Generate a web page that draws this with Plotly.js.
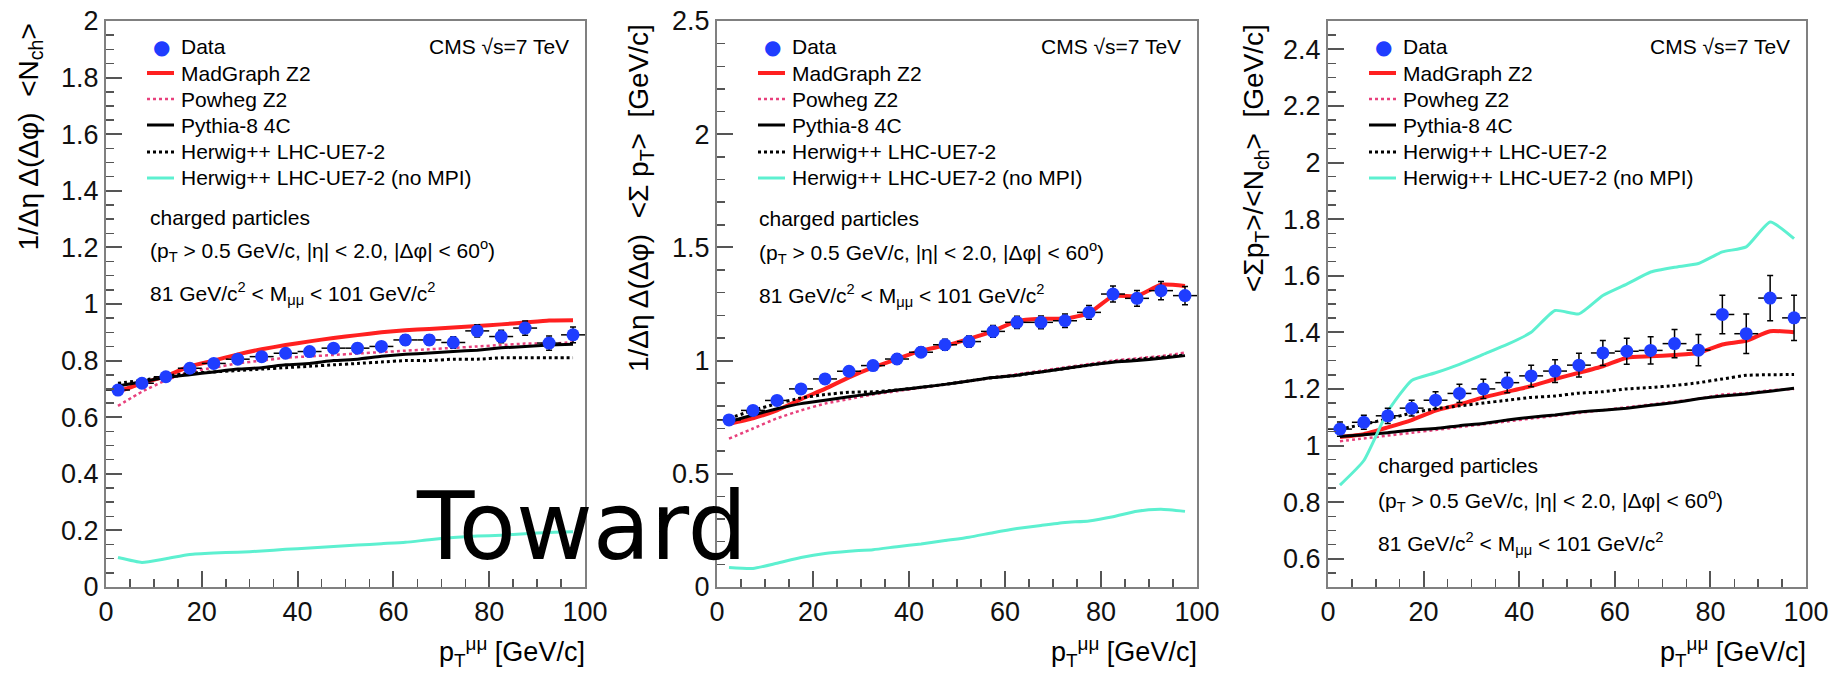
<!DOCTYPE html>
<html><head><meta charset="utf-8">
<script src="https://cdn.plot.ly/plotly-3.0.1.min.js"></script>
<style>html,body{margin:0;padding:0;background:#fff}#chart{width:1834px;height:677px}</style>
</head><body><div id="chart"></div>
<script>
// ---------- data ----------
const ptBins = [2.5,7.5,12.5,17.5,22.5,27.5,32.5,37.5,42.5,47.5,52.5,57.5,62.5,67.5,72.5,77.5,82.5,87.5,92.5,97.5];
const binHalfWidth = 2.5;

const seriesNames = ["Data","MadGraph Z2","Powheg Z2","Pythia-8 4C","Herwig++ LHC-UE7-2","Herwig++ LHC-UE7-2 (no MPI)"];

// Panel 1: 1/Δη Δ(Δφ) <Nch>
const nchData      = [0.696,0.720,0.743,0.773,0.790,0.805,0.814,0.826,0.832,0.844,0.844,0.850,0.873,0.873,0.864,0.905,0.885,0.915,0.862,0.891];
const nchErr       = [0.010,0.010,0.012,0.012,0.013,0.013,0.014,0.014,0.015,0.015,0.016,0.016,0.018,0.018,0.020,0.022,0.022,0.025,0.025,0.028];
const nchMadGraph  = [0.690,0.720,0.745,0.780,0.800,0.822,0.840,0.855,0.868,0.880,0.890,0.900,0.907,0.912,0.917,0.922,0.928,0.935,0.942,0.943];
const nchPowheg    = [0.640,0.690,0.730,0.760,0.775,0.790,0.800,0.810,0.815,0.820,0.825,0.830,0.835,0.840,0.845,0.850,0.855,0.860,0.860,0.865];
const nchPythia    = [0.710,0.725,0.740,0.750,0.760,0.770,0.775,0.785,0.790,0.800,0.805,0.815,0.822,0.827,0.832,0.837,0.845,0.850,0.855,0.858];
const nchHerwig    = [0.720,0.730,0.745,0.755,0.760,0.765,0.770,0.775,0.780,0.785,0.790,0.795,0.800,0.800,0.805,0.805,0.810,0.810,0.810,0.810];
const nchHerwigNoMPI = [0.104,0.087,0.100,0.115,0.120,0.123,0.127,0.133,0.138,0.143,0.148,0.153,0.158,0.167,0.175,0.180,0.183,0.188,0.193,0.195];

// Panel 2: 1/Δη Δ(Δφ) <Σ pT>
const sptData      = [0.738,0.780,0.824,0.875,0.919,0.953,0.978,1.007,1.037,1.070,1.084,1.129,1.169,1.169,1.176,1.213,1.294,1.275,1.309,1.287];
const sptErr       = [0.015,0.015,0.017,0.018,0.020,0.020,0.020,0.022,0.022,0.024,0.025,0.026,0.027,0.028,0.030,0.030,0.035,0.035,0.040,0.040];
const sptMadGraph  = [0.720,0.745,0.780,0.830,0.875,0.926,0.970,1.007,1.044,1.066,1.096,1.130,1.175,1.185,1.185,1.210,1.285,1.285,1.335,1.330];
const sptPowheg    = [0.655,0.700,0.745,0.780,0.810,0.830,0.850,0.865,0.880,0.895,0.910,0.925,0.940,0.955,0.970,0.985,1.000,1.010,1.020,1.035];
const sptPythia    = [0.730,0.760,0.787,0.810,0.825,0.840,0.855,0.870,0.882,0.895,0.910,0.925,0.935,0.950,0.965,0.980,0.993,1.000,1.010,1.022];
const sptHerwig    = [0.745,0.780,0.810,0.835,0.850,0.860,0.862,0.870,0.882,0.895,0.910,0.925,0.935,0.950,0.965,0.980,0.995,1.005,1.015,1.025];
const sptHerwigNoMPI = [0.086,0.082,0.105,0.130,0.148,0.158,0.165,0.178,0.190,0.205,0.220,0.240,0.258,0.272,0.285,0.292,0.310,0.335,0.343,0.334];

// Panel 3: <Σ pT>/<Nch>
const ratioData      = [1.058,1.082,1.105,1.132,1.160,1.184,1.200,1.222,1.246,1.263,1.284,1.327,1.333,1.336,1.360,1.337,1.463,1.395,1.521,1.451];
const ratioErr       = [0.025,0.025,0.027,0.028,0.030,0.032,0.034,0.036,0.038,0.040,0.042,0.044,0.046,0.048,0.050,0.055,0.068,0.070,0.080,0.080];
const ratioMadGraph  = [1.030,1.040,1.064,1.090,1.123,1.145,1.170,1.190,1.210,1.235,1.257,1.280,1.310,1.315,1.320,1.327,1.357,1.370,1.404,1.400];
const ratioPowheg    = [1.015,1.025,1.035,1.045,1.055,1.065,1.075,1.085,1.095,1.105,1.115,1.125,1.135,1.145,1.155,1.165,1.180,1.185,1.195,1.200];
const ratioPythia    = [1.032,1.038,1.045,1.055,1.060,1.070,1.078,1.090,1.100,1.108,1.118,1.125,1.132,1.142,1.152,1.165,1.175,1.182,1.192,1.202];
const ratioHerwig    = [1.058,1.075,1.094,1.115,1.130,1.140,1.150,1.160,1.170,1.175,1.185,1.190,1.200,1.205,1.212,1.222,1.235,1.248,1.250,1.251];
const ratioHerwigNoMPI = [0.860,0.947,1.120,1.230,1.257,1.287,1.322,1.357,1.400,1.477,1.465,1.530,1.570,1.613,1.630,1.643,1.684,1.702,1.790,1.731];

const yTitles = [
  "1/Δη Δ(Δφ)  &lt;N<sub>ch</sub>&gt;",
  "1/Δη Δ(Δφ)  &lt;Σ p<sub>T</sub>&gt;  [GeV/c]",
  "&lt;Σp<sub>T</sub>&gt;/&lt;N<sub>ch</sub>&gt;  [GeV/c]"
];
const xTitle = "p<sub>T</sub><sup>μμ</sup> [GeV/c]";
const cmsLabel = "CMS √s=7 TeV";
const selectionText = [
  "charged particles",
  "(p<sub>T</sub> &gt; 0.5 GeV/c, |η| &lt; 2.0, |Δφ| &lt; 60<sup>o</sup>)",
  "81 GeV/c<sup>2</sup> &lt; M<sub>μμ</sub> &lt; 101 GeV/c<sup>2</sup>"
];
const overlayLabel = "Toward";

// ---------- styling ----------
const W = 1834, H = 677;
const px = v => v / W;
const py = v => 1 - v / H;
const FONT = "Liberation Sans, Arial, Helvetica, sans-serif";

const styles = [
  {color:'#1f3dff'},
  {color:'#ff2020', width:4, dash:'solid'},
  {color:'#e8407c', width:2.5, dash:'dot'},
  {color:'#000000', width:3, dash:'solid'},
  {color:'#000000', width:3, dash:'dot'},
  {color:'#5df0d0', width:3, dash:'solid'}
];

const panels = [
  {sfx:'', left:106, right:585, yrange:[0,2], dtick:0.2, tick0:0, minor:0.05,
   data:nchData, err:nchErr, models:[nchMadGraph,nchPowheg,nchPythia,nchHerwig,nchHerwigNoMPI],
   ytitleX:30, textLeft:148, textRows:[217,251,294]},
  {sfx:'2', left:717, right:1197, yrange:[0,2.5], dtick:0.5, tick0:0, minor:0.1,
   data:sptData, err:sptErr, models:[sptMadGraph,sptPowheg,sptPythia,sptHerwig,sptHerwigNoMPI],
   ytitleX:640, textLeft:757, textRows:[218,253,295]},
  {sfx:'3', left:1328, right:1806, yrange:[0.5,2.5], dtick:0.2, tick0:0.6, minor:0.05,
   data:ratioData, err:ratioErr, models:[ratioMadGraph,ratioPowheg,ratioPythia,ratioHerwig,ratioHerwigNoMPI],
   ytitleX:1255, textLeft:1376, textRows:[465,500,543]}
];
const plotTop = 21, plotBottom = 587;
const legendRows = [47,73,99,125,152,178];

const traces = [];
const layout = {
  width:W, height:H, margin:{l:0,r:0,t:0,b:0},
  paper_bgcolor:'#fff', plot_bgcolor:'#fff', showlegend:false,
  font:{family:FONT, color:'#000'},
  annotations:[], shapes:[]
};

panels.forEach((p, pi) => {
  const xa = 'x'+p.sfx, ya = 'y'+p.sfx;
  p.models.forEach((m,i) => {
    const s = styles[i+1];
    traces.push({x:ptBins, y:m, xaxis:xa, yaxis:ya, mode:'lines', name:seriesNames[i+1],
      line:{color:s.color, width:s.width, dash:s.dash, shape:'spline', smoothing:0.5}, hoverinfo:'skip'});
  });
  traces.push({x:ptBins, y:p.data, xaxis:xa, yaxis:ya, mode:'markers', name:seriesNames[0],
    marker:{color:styles[0].color, size:13},
    error_y:{type:'data', array:p.err, color:'#000', thickness:1.5, width:3},
    error_x:{type:'constant', value:binHalfWidth, color:'#000', thickness:1.5, width:0}});

  const common = {showline:true, mirror:true, linecolor:'#808080', linewidth:2,
    ticks:'inside', ticklen:16, tickwidth:2, tickcolor:'#555',
    showgrid:false, zeroline:false, tickfont:{family:FONT, size:27, color:'#111'}};
  layout['xaxis'+p.sfx] = Object.assign({}, common, {
    domain:[px(p.left), px(p.right)], range:[0,100], dtick:20, tick0:0, anchor:ya,
    minor:{ticks:'inside', ticklen:8, tickwidth:1.5, tickcolor:'#555', dtick:5}});
  layout['yaxis'+p.sfx] = Object.assign({}, common, {
    domain:[py(plotBottom), py(plotTop)], range:p.yrange, dtick:p.dtick, tick0:p.tick0, anchor:xa,
    minor:{ticks:'inside', ticklen:8, tickwidth:1.5, tickcolor:'#555', dtick:p.minor}});

  const ann = layout.annotations;
  ann.push({xref:'paper', yref:'paper', x:px(p.ytitleX), y:py(22), xanchor:'center', yanchor:'top',
    textangle:-90, text:yTitles[pi], showarrow:false, font:{size:28, family:FONT}});
  ann.push({xref:'paper', yref:'paper', x:px(p.right+2), y:py(652), xanchor:'right', yanchor:'middle',
    text:xTitle, showarrow:false, font:{size:27, family:FONT}});
  ann.push({xref:'paper', yref:'paper', x:px(p.right-14), y:py(47), xanchor:'right', yanchor:'middle',
    text:cmsLabel, showarrow:false, font:{size:21, family:FONT}});
  selectionText.forEach((t,k) => ann.push({xref:'paper', yref:'paper', x:px(p.textLeft), y:py(p.textRows[k]),
    xanchor:'left', yanchor:'middle', text:t, showarrow:false, font:{size:21, family:FONT}}));
  seriesNames.forEach((n,k) => {
    const yy = legendRows[k];
    if (k === 0) {
      ann.push({xref:'paper', yref:'paper', x:px(p.left+55), y:py(yy), xanchor:'center', yanchor:'middle',
        text:'●', showarrow:false, font:{size:20, color:styles[0].color, family:'DejaVu Sans'}});
    } else {
      const s = styles[k];
      layout.shapes.push({type:'line', xref:'paper', yref:'paper', x0:px(p.left+41), x1:px(p.left+68),
        y0:py(yy), y1:py(yy), line:{color:s.color, width:s.width, dash:s.dash}});
    }
    ann.push({xref:'paper', yref:'paper', x:px(p.left+73), y:py(yy), xanchor:'left', yanchor:'middle',
      text:n, showarrow:false, font:{size:21, family:FONT}});
  });
});

layout.annotations.push({xref:'paper', yref:'paper', x:px(581), y:py(526), xanchor:'center', yanchor:'middle',
  text:overlayLabel, showarrow:false, font:{size:94, family:'DejaVu Sans', color:'#000'}});

Plotly.newPlot('chart', traces, layout, {staticPlot:true});
</script>
</body></html>
